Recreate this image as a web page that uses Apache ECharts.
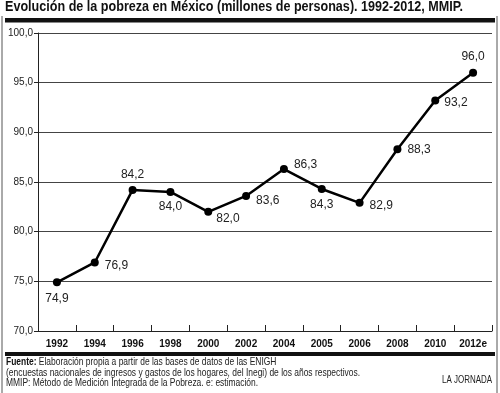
<!DOCTYPE html>
<html><head><meta charset="utf-8">
<script src="https://cdn.jsdelivr.net/npm/echarts@6/dist/echarts.min.js"></script>
<style>html,body{margin:0;padding:0;background:#fff}#c{width:500px;height:393px}</style>
</head><body><div id="c"></div>
<script>
var categories = ['1992','1994','1996','1998','2000','2002','2004','2005','2006','2008','2010','2012e'];
var values = [74.9, 76.9, 84.2, 84.0, 82.0, 83.6, 86.3, 84.3, 82.9, 88.3, 93.2, 96.0];
var yMin = 70, yMax = 100, yStep = 5;
var titleText = 'Evolución de la pobreza en México (millones de personas). 1992-2012, MMIP.';
var fuenteLabel = 'Fuente:';
var fuenteLines = [' Elaboración propia a partir de las bases de datos de las ENIGH',
  '(encuestas nacionales de ingresos y gastos de los hogares, del Inegi) de los años respectivos.',
  'MMIP: Método de Medición Integrada de la Pobreza. e: estimación.'];
var credit = 'LA JORNADA';

// label placement (styling only)
var labelCfg = [
  {position:'bottom', distance:6},
  {position:'right', distance:6, offset:[0,3]},
  {position:'top', distance:5},
  {position:'bottom', distance:5},
  {position:'right', distance:4, offset:[0,7]},
  {position:'right', distance:6, offset:[0,5]},
  {position:'right', distance:6, offset:[0,-4]},
  {position:'bottom', distance:6},
  {position:'right', distance:6, offset:[0,3]},
  {position:'right', distance:6},
  {position:'right', distance:5, offset:[0,2]},
  {position:'top', distance:6}
];

var sans = '"Liberation Sans",Arial,Helvetica,sans-serif';
function fmt(v){ return v.toFixed(1).replace('.', ','); }
var cv = document.createElement('canvas').getContext('2d');
function measure(t, font){ cv.font = font; return cv.measureText(t).width; }

var titleFont = 'bold 15px ' + sans;
var titleScale = 458 / measure(titleText, titleFont);
var footFont = '10.5px ' + sans;
var footBold = 'bold 10.5px ' + sans;
var footScale = 354 / measure(fuenteLines[1], footFont);
var creditScale = 50 / measure(credit, footFont);

var seriesData = values.map(function(v,i){ return {value:v, label:labelCfg[i]}; });
var chart = echarts.init(document.getElementById('c'), null, {renderer:'canvas'});
chart.setOption({
  animation:false,
  backgroundColor:'#fff',
  grid:{left:38, right:8, top:33, bottom:62, containLabel:false},
  xAxis:{type:'category', data:categories, boundaryGap:true,
    axisLine:{lineStyle:{color:'#222', width:1}},
    axisTick:{show:true, inside:true, length:6, interval:0, lineStyle:{color:'#222'}},
    axisLabel:{color:'#111', fontFamily:sans, fontWeight:'bold', fontSize:10, margin:8, interval:0},
    splitLine:{show:false}},
  yAxis:{type:'value', min:yMin, max:yMax, interval:yStep,
    axisLine:{show:true, lineStyle:{color:'#222', width:1}},
    axisTick:{show:true, length:4, lineStyle:{color:'#222'}},
    axisLabel:{color:'#222', fontFamily:sans, fontSize:10, margin:5, formatter:function(v){return fmt(v);}},
    splitLine:{show:true, lineStyle:{color:'#444', width:1}}},
  series:[{type:'line', data:seriesData, symbol:'circle', symbolSize:8,
    itemStyle:{color:'#000'}, lineStyle:{color:'#000', width:2.5},
    label:{show:true, color:'#222', fontFamily:sans, fontSize:12, formatter:function(p){return fmt(p.value);}}}],
  graphic:[
    {type:'text', x:5, y:14, scaleX:titleScale, style:{text:titleText, font:titleFont, fill:'#111', textVerticalAlign:'bottom'}},
    {type:'rect', shape:{x:5, y:18, width:490, height:4.5}, style:{fill:'#111'}},
    {type:'rect', shape:{x:5, y:352, width:490, height:4}, style:{fill:'#111'}},
    {type:'line', shape:{x1:2, y1:16, x2:2, y2:393}, style:{stroke:'#555', lineWidth:1}},
    {type:'line', shape:{x1:497, y1:16, x2:497, y2:393}, style:{stroke:'#555', lineWidth:1}},
    {type:'text', x:6, y:357, scaleX:footScale, style:{text:'{b|'+fuenteLabel+'}'+fuenteLines[0], font:footFont, fill:'#222',
      rich:{b:{font:footBold, fill:'#111'}}}},
    {type:'text', x:6, y:367.5, scaleX:footScale, style:{text:fuenteLines[1], font:footFont, fill:'#222'}},
    {type:'text', x:6, y:378, scaleX:footScale, style:{text:fuenteLines[2], font:footFont, fill:'#222'}},
    {type:'text', x:442, y:375, scaleX:creditScale, style:{text:credit, font:footFont, fill:'#222'}}
  ]
});
</script></body></html>
